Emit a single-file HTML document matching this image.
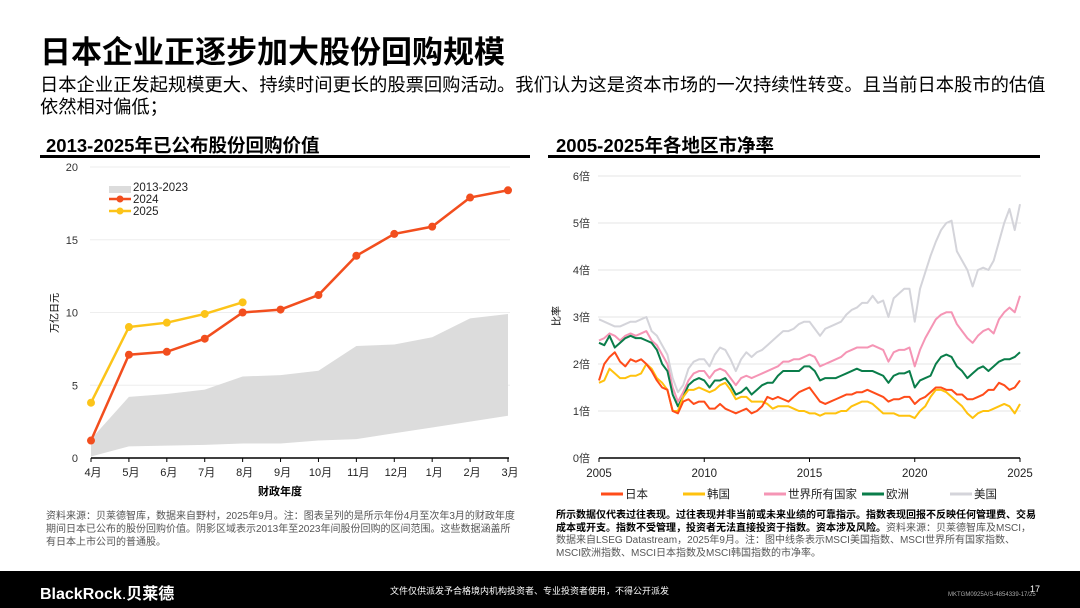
<!DOCTYPE html>
<html><head><meta charset="utf-8">
<style>
body{margin:0;width:1080px;height:608px;overflow:hidden;background:#fff;font-family:"Liberation Sans","Noto Sans CJK SC",sans-serif;position:relative}
.a{position:absolute;margin:0}
svg{position:absolute;left:0;top:0}
svg text{font-family:"Liberation Sans","Noto Sans CJK SC",sans-serif}
</style></head><body>
<h1 class="a" style="left:40px;top:35px;font-size:31px;font-weight:bold;color:#000;line-height:36px">日本企业正逐步加大股份回购规模</h1>
<p class="a" style="left:40px;top:74px;width:1012px;font-size:18.3px;line-height:22px;color:#000">日本企业正发起规模更大、持续时间更长的股票回购活动。我们认为这是资本市场的一次持续性转变。且当前日本股市的估值依然相对偏低；</p>
<div class="a" style="left:46px;top:132px;font-size:18.5px;font-weight:bold">2013-2025年已公布股份回购价值</div>
<div class="a" style="left:556px;top:132px;font-size:18.5px;font-weight:bold">2005-2025年各地区市净率</div>
<div class="a" style="left:46px;top:510px;width:470px;font-size:10px;line-height:13px;color:#555">资料来源：贝莱德智库，数据来自野村，2025年9月。注：图表呈列的是所示年份4月至次年3月的财政年度期间日本已公布的股份回购价值。阴影区域表示2013年至2023年间股份回购的区间范围。这些数据涵盖所有日本上市公司的普通股。</div>
<div class="a" style="left:556px;top:510px;width:482px;font-size:10px;line-height:12.5px;color:#555"><b style="color:#000">所示数据仅代表过往表现。过往表现并非当前或未来业绩的可靠指示。指数表现回报不反映任何管理费、交易成本或开支。指数不受管理，投资者无法直接投资于指数。资本涉及风险。</b>资料来源：贝莱德智库及MSCI，数据来自LSEG Datastream，2025年9月。注：图中线条表示MSCI美国指数、MSCI世界所有国家指数、MSCI欧洲指数、MSCI日本指数及MSCI韩国指数的市净率。</div>
<div class="a" style="left:0;top:571px;width:1080px;height:37px;background:#000"></div>
<div class="a" style="left:40px;top:580px;font-size:16px;font-weight:bold;color:#fff">BlackRock<span style="font-weight:normal">.</span>贝莱德</div>
<div class="a" style="left:390px;top:584px;font-size:9px;color:#fff">文件仅供派发予合格境内机构投资者、专业投资者使用，不得公开派发</div>
<div class="a" style="left:1030px;top:584px;font-size:9px;color:#fff">17</div>
<div class="a" style="left:948px;top:592px;font-size:6px;color:#aaa">MKTGM0925A/S-4854339-17/25</div>
<svg id="c" width="1080" height="608"></svg>
<script>
const months=["4月","5月","6月","7月","8月","9月","10月","11月","12月","1月","2月","3月"];
const v2024=[1.2,7.1,7.3,8.2,10.0,10.2,11.2,13.9,15.4,15.9,17.9,18.4];
const v2025=[3.8,9.0,9.3,9.9,10.7];
const bandHi=[1.3,4.2,4.4,4.7,5.6,5.7,6.0,7.7,7.8,8.3,9.6,9.9];
const bandLo=[0.1,0.8,0.85,0.9,1.0,1.0,1.2,1.3,1.7,2.1,2.5,2.9];
const leftTicks=[0,5,10,15,20];
const years=[2005,2010,2015,2020,2025];
const rightTicks=[0,1,2,3,4,5,6];
const japan=[1.65,2.0,2.15,2.25,2.05,1.95,2.1,2.05,2.1,2.0,1.85,1.65,1.5,1.45,1.0,0.95,1.2,1.25,1.15,1.2,1.2,1.05,1.05,1.15,1.05,1.0,0.95,1.0,1.05,0.95,1.0,1.1,1.3,1.25,1.3,1.25,1.2,1.3,1.4,1.45,1.5,1.35,1.2,1.15,1.2,1.25,1.3,1.35,1.35,1.4,1.4,1.45,1.4,1.35,1.3,1.2,1.25,1.25,1.3,1.3,1.15,1.25,1.3,1.4,1.5,1.5,1.45,1.45,1.35,1.35,1.25,1.25,1.3,1.35,1.45,1.45,1.6,1.55,1.45,1.5,1.65];
const korea=[1.6,1.65,1.9,1.8,1.7,1.7,1.75,1.75,1.8,2.0,1.9,1.7,1.6,1.45,1.0,1.0,1.3,1.45,1.45,1.5,1.45,1.4,1.45,1.55,1.6,1.45,1.25,1.3,1.3,1.2,1.2,1.2,1.15,1.05,1.1,1.1,1.1,1.05,1.0,1.0,0.95,0.95,0.9,0.95,0.95,0.95,1.0,1.0,1.1,1.15,1.2,1.2,1.15,1.05,0.95,0.95,0.95,0.9,0.9,0.9,0.85,1.0,1.1,1.3,1.45,1.45,1.4,1.3,1.2,1.1,0.95,0.85,0.95,1.0,1.0,1.05,1.1,1.15,1.1,0.95,1.15];
const world=[2.5,2.55,2.65,2.6,2.5,2.6,2.65,2.6,2.65,2.7,2.5,2.4,2.2,2.0,1.5,1.2,1.4,1.65,1.8,1.85,1.85,1.7,1.85,1.9,1.85,1.7,1.55,1.7,1.75,1.7,1.75,1.8,1.85,1.9,1.95,2.05,2.05,2.1,2.1,2.15,2.2,2.15,1.95,2.0,2.05,2.1,2.15,2.25,2.3,2.35,2.35,2.35,2.4,2.35,2.3,2.05,2.25,2.3,2.3,2.35,1.95,2.3,2.55,2.75,2.95,3.05,3.1,3.1,2.85,2.7,2.55,2.45,2.6,2.7,2.75,2.65,2.95,3.1,3.2,3.1,3.45];
const europe=[2.45,2.4,2.6,2.35,2.45,2.55,2.6,2.55,2.55,2.5,2.45,2.3,2.0,1.85,1.35,1.1,1.3,1.55,1.65,1.7,1.65,1.5,1.65,1.65,1.7,1.55,1.35,1.4,1.5,1.35,1.45,1.55,1.6,1.6,1.75,1.85,1.85,1.85,1.85,1.95,1.95,1.85,1.65,1.7,1.7,1.7,1.75,1.8,1.85,1.9,1.85,1.85,1.85,1.8,1.75,1.6,1.75,1.8,1.8,1.85,1.5,1.65,1.7,1.75,2.0,2.15,2.2,2.15,1.95,1.85,1.7,1.8,1.9,1.95,1.85,1.95,2.05,2.1,2.1,2.15,2.25];
const usa=[2.95,2.9,2.85,2.8,2.8,2.85,2.9,2.9,2.95,3.0,2.7,2.6,2.4,2.2,1.7,1.4,1.55,1.9,2.05,2.1,2.1,1.95,2.2,2.35,2.3,2.1,1.85,2.1,2.25,2.15,2.25,2.3,2.4,2.5,2.6,2.7,2.7,2.75,2.85,2.9,2.9,2.75,2.6,2.75,2.8,2.85,2.9,3.05,3.15,3.2,3.3,3.3,3.45,3.3,3.35,3.0,3.4,3.5,3.6,3.6,2.9,3.6,3.95,4.3,4.6,4.85,5.0,5.05,4.4,4.2,4.0,3.65,4.0,4.05,4.0,4.2,4.6,5.0,5.3,4.85,5.4];
const seriesNames=["日本","韩国","世界所有国家","欧洲","美国"];
const seriesColors=["#ff4c1a","#ffc20e","#f595b5","#0a7d4a","#d4d4da"];
const NS="http://www.w3.org/2000/svg";
const svg=document.getElementById('c');
function mk(t,a,p){const e=document.createElementNS(NS,t);for(const k in a)e.setAttribute(k,a[k]);(p||svg).appendChild(e);return e;}
let u1=mk('rect',{x:40,y:155,width:490,height:3,fill:'#000'});


let u2=mk('rect',{x:548,y:155,width:492,height:3,fill:'#000'});


const lx=i=>91+i*(508-91)/11, ly=v=>458-v*(458-167)/20;
leftTicks.forEach(t=>{
 if(t>0){let g=mk('line',{x1:90,x2:510,y1:ly(t),y2:ly(t),stroke:'#eee'});
 
 }
 let tx=mk('text',{x:78,y:ly(t)+4,'text-anchor':'end','font-size':11,fill:'#333'});tx.textContent=t;
 
 
});
let bp=bandHi.map((v,i)=>lx(i)+','+ly(v)).concat(bandLo.map((v,i)=>lx(i)+','+ly(v)).reverse()).join(' ');
let band=mk('polygon',{points:bp,fill:'#dcdcdc'});


let ax=mk('line',{x1:91,x2:509,y1:458,y2:458,stroke:'#000','stroke-width':1.5});


months.forEach((m,i)=>{
 let tk=mk('line',{x1:lx(i),x2:lx(i),y1:458,y2:462,stroke:'#000'});
 
 
 let t=mk('text',{x:lx(i)+2,y:476,'text-anchor':'middle','font-size':11,fill:'#222'});t.textContent=m;
 
 
});
let xt=mk('text',{x:280,y:495,'text-anchor':'middle','font-size':11,'font-weight':'bold'});xt.textContent='财政年度';


let yt=mk('text',{x:0,y:0,'text-anchor':'middle','font-size':10,transform:'translate(58,313) rotate(-90)'});yt.textContent='万亿日元';


function lineDots(vals,col,name){
 let l=mk('polyline',{points:vals.map((v,i)=>lx(i)+','+ly(v)).join(' '),fill:'none',stroke:col,'stroke-width':2.5});
 
 
 vals.forEach((v,i)=>{let c=mk('circle',{cx:lx(i),cy:ly(v),r:4,fill:col});
 
 });
}
lineDots(v2024,'#f24e1e','series-2024');
lineDots(v2025,'#fcc419','series-2025');
let lg1=mk('rect',{x:109,y:186,width:22,height:7,fill:'#dcdcdc'});


[['2013-2023',null,191],['2024','#f24e1e',203],['2025','#fcc419',215]].forEach(([n,c,y])=>{
 if(c){let l=mk('line',{x1:109,x2:131,y1:y-4,y2:y-4,stroke:c,'stroke-width':2.5});
 
 
 let d=mk('circle',{cx:120,cy:y-4,r:3.5,fill:c});
 
 }
 let t=mk('text',{x:133,y:y,'font-size':11.5,fill:'#222'});t.textContent=n;
 
 
});
const rx=yr=>599+(yr-2005)*(1020-599)/20, ry=v=>458-v*(458-176)/6;
rightTicks.forEach(t=>{
 if(t>0){let g=mk('line',{x1:598,x2:1021,y1:ry(t),y2:ry(t),stroke:'#e6e6e6'});
 
 }
 let tx=mk('text',{x:590,y:ry(t)+4,'text-anchor':'end','font-size':11,fill:'#333'});tx.textContent=t+'倍';
 
 
});
let ryt=mk('text',{x:0,y:0,'text-anchor':'middle','font-size':10,transform:'translate(560,316) rotate(-90)'});ryt.textContent='比率';


let ax2=mk('line',{x1:599,x2:1020,y1:458,y2:458,stroke:'#000','stroke-width':1.5});


years.forEach(y=>{
 let tk=mk('line',{x1:rx(y),x2:rx(y),y1:458,y2:462,stroke:'#000'});
 
 
 let t=mk('text',{x:rx(y),y:477,'text-anchor':'middle','font-size':11.5,fill:'#222'});t.textContent=y;
 
 
});
const allSeries=[japan,korea,world,europe,usa];
[4,2,3,1,0].forEach(k=>{
 const s=allSeries[k];
 let p=mk('polyline',{points:s.map((v,i)=>rx(2005+i*0.25)+','+ry(v)).join(' '),fill:'none',stroke:seriesColors[k],'stroke-width':2,'stroke-linejoin':'round'});
 
 
});
const legX=[601,683,764,862,950];
seriesNames.forEach((n,k)=>{
 let l=mk('line',{x1:legX[k],x2:legX[k]+22,y1:494,y2:494,stroke:seriesColors[k],'stroke-width':3});
 
 
 let t=mk('text',{x:legX[k]+24,y:498,'font-size':11.5,fill:'#222'});t.textContent=n;
 
 
});
</script>
</body></html>
